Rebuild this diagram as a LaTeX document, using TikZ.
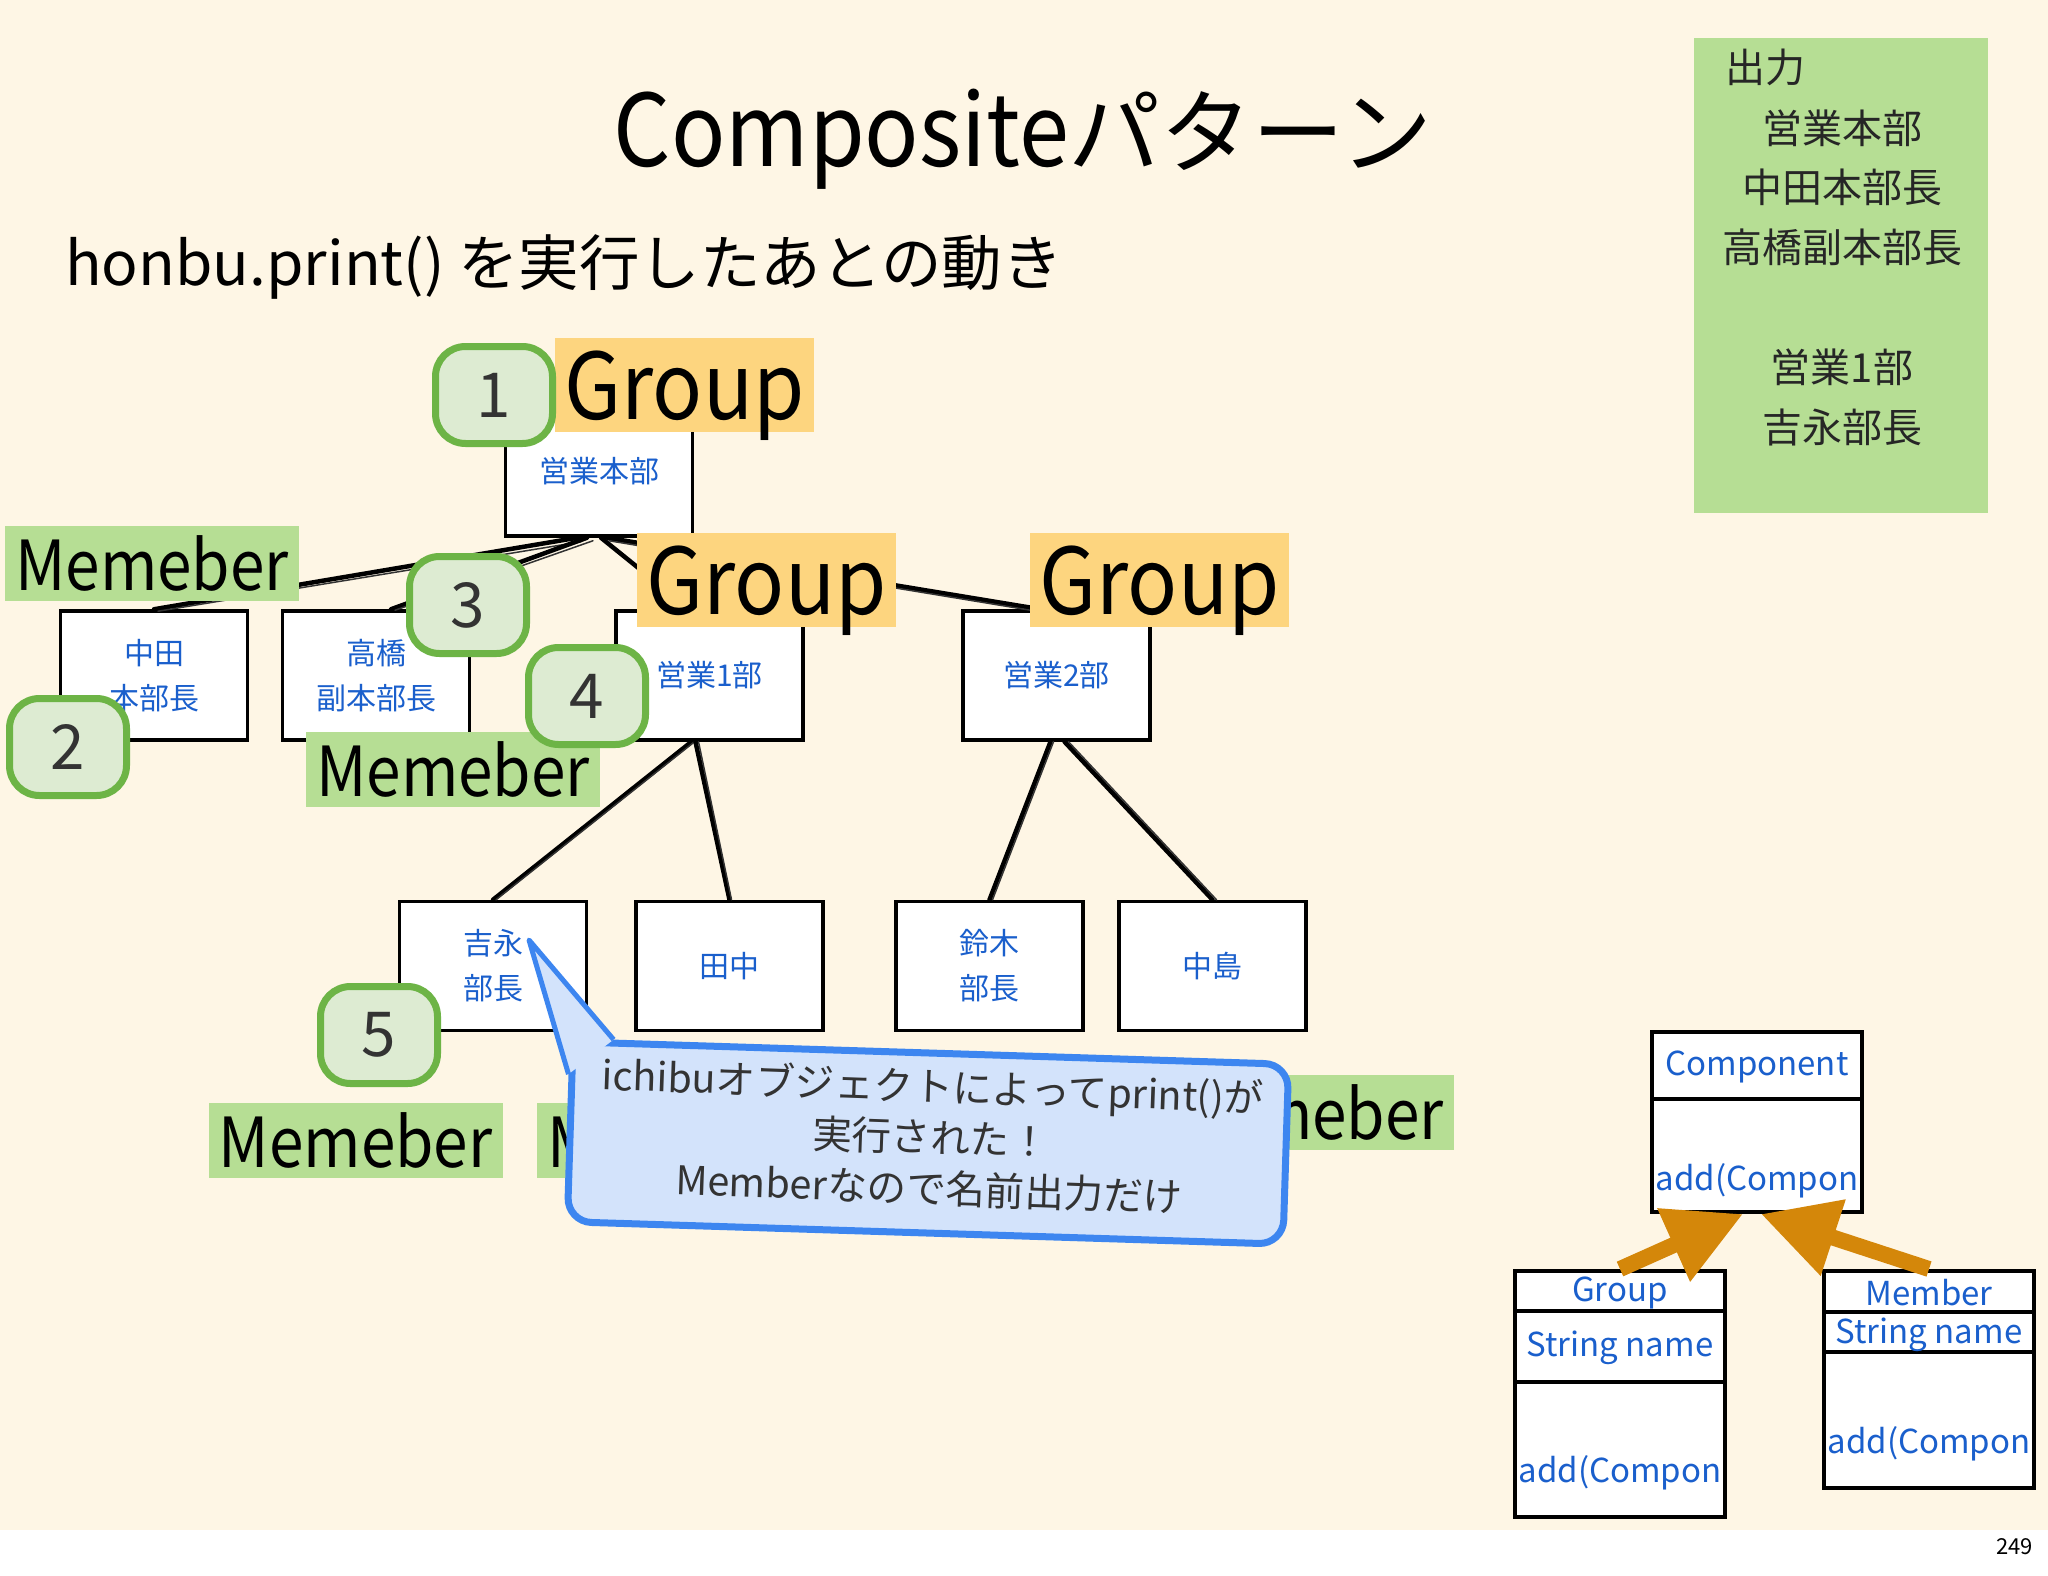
\documentclass[tikz,border=0pt]{standalone}
\usepackage{fontspec}
\setmainfont{Noto Sans CJK JP}
\newfontfamily\latn[FakeStretch=0.9]{Noto Sans CJK JP}
\usetikzlibrary{arrows.meta,calc}
\definecolor{cream}{HTML}{FEF6E5}
\definecolor{lblgreen}{HTML}{B6DE94}
\definecolor{lblyellow}{HTML}{FDD57F}
\definecolor{boxblue}{HTML}{1A5FCC}
\definecolor{badgefill}{HTML}{DDEBD2}
\definecolor{badgeline}{HTML}{6DB446}
\definecolor{callfill}{HTML}{D3E3FB}
\definecolor{callline}{HTML}{3D86F0}
\definecolor{orng}{HTML}{D4870A}
\definecolor{txtgray}{HTML}{333333}
\newcommand\fsz[2]{\fontsize{#1}{#2}\selectfont}
\tikzset{
  orgbox/.style={draw=black, line width=3.5pt, fill=white, minimum width=187pt, minimum height=129pt, inner sep=0pt, text=boxblue, font=\fsz{30}{45}, align=center},
  grouplbl/.style={fill=lblyellow, minimum width=259pt, minimum height=94pt, inner sep=0pt, font=\latn\fsz{92}{100}, text depth=0pt},
  memlbl/.style={fill=lblgreen, minimum width=294pt, minimum height=75pt, inner sep=0pt, font=\latn\fsz{69}{72}, text depth=0pt},
  badge/.style={draw=badgeline, line width=7pt, fill=badgefill, rounded corners=30pt, minimum width=117pt, minimum height=97pt, inner sep=0pt, text=txtgray, font=\fsz{62}{70}},
  conn/.style={line width=4.5pt, black, line cap=round},
  connthin/.style={line width=1.5pt, black!80, line cap=round},
  uml/.style={draw=black, line width=4pt, fill=white, inner sep=0pt},
  umltxt/.style={text=boxblue, font=\fsz{33}{40}, inner sep=0pt},
  uarrow/.style={draw=orng, line width=16pt, -{Triangle[length=76pt,width=76pt]}},
  outtxt/.style={font=\fsz{40}{48}, text=black!85, inner sep=0pt},
}
\begin{document}
\begin{tikzpicture}[x=1pt,y=-1pt]
\useasboundingbox (0,0) rectangle (2048,1576);
\fill[white] (0,0) rectangle (2048,1576);
\fill[cream] (0,0) rectangle (2048,1530);

% titles
\node[anchor=base, inner sep=0pt] (title) at (1023,167) {{\latn\fsz{100}{110}Composite}{\fsz{92}{100}パターン}};
\node[anchor=base west, font=\fsz{60.5}{70}, inner sep=0pt] (sub) at (65,285) {honbu.print() を実行したあとの動き};

% output panel
\node[fill=lblgreen, minimum width=294pt, minimum height=475pt, inner sep=0pt] (out) at (1841,275.5) {};
\node[outtxt, anchor=west] (o0) at (1725,67) {出力};
\node[outtxt] (o1) at (1842,128) {営業本部};
\node[outtxt] (o2) at (1842,187) {中田本部長};
\node[outtxt] (o3) at (1842,247) {高橋副本部長};
\node[outtxt] (o4) at (1842,367) {営業1部};
\node[outtxt] (o5) at (1842,427) {吉永部長};

% tree boxes
\node[orgbox] (honbu) at (599,471.5) {営業本部};
\node[orgbox] (nakata) at (154,675.5) {中田\\本部長};
\node[orgbox] (taka) at (376,675.5) {高橋\\副本部長};
\node[orgbox] (ichibu) at (709.5,675.5) {営業1部};
\node[orgbox] (nibu) at (1056.5,675.5) {営業2部};
\node[orgbox] (yoshi) at (493,966) {吉永\\部長};
\node[orgbox] (tanaka) at (729.5,966) {田中};
\node[orgbox] (suzuki) at (989.5,966) {鈴木\\部長};
\node[orgbox] (nakajima) at (1212.5,966) {中島};

% connectors (sketchy: a thick stroke plus a thin offset stroke)
\draw[conn] ([xshift=-22pt]honbu.south) -- (nakata.north);
\draw[connthin] ([xshift=-18pt,yshift=-4pt]honbu.south) -- ([xshift=4pt,yshift=-2pt]nakata.north);
\draw[conn] ([xshift=-12pt]honbu.south) -- ([xshift=15pt]taka.north);
\draw[connthin] ([xshift=-6pt,yshift=-3pt]honbu.south) -- ([xshift=19pt,yshift=-1pt]taka.north);
\draw[conn] ([xshift=2pt]honbu.south) -- ([xshift=-20pt]ichibu.north);
\draw[conn] ([xshift=8pt]honbu.south) -- ([xshift=-16pt]nibu.north);
\draw[connthin] ([xshift=10pt,yshift=-3pt]honbu.south) -- ([xshift=-14pt,yshift=-3pt]nibu.north);
\draw[conn] ([xshift=-18pt]ichibu.south) -- (yoshi.north);
\draw[connthin] ([xshift=-15pt]ichibu.south) -- ([xshift=3pt]yoshi.north);
\draw[conn] ([xshift=-14pt]ichibu.south) -- (tanaka.north);
\draw[connthin] ([xshift=-11pt]ichibu.south) -- ([xshift=2pt]tanaka.north);
\draw[conn] ([xshift=-6pt]nibu.south) -- (suzuki.north);
\draw[connthin] ([xshift=-3pt]nibu.south) -- ([xshift=3pt]suzuki.north);
\draw[conn] ([xshift=8pt]nibu.south) -- (nakajima.north);
\draw[connthin] ([xshift=12pt]nibu.south) -- ([xshift=4pt]nakajima.north);

% labels
\node[grouplbl] (g1) at (684.5,385) {Group};
\node[grouplbl] (g2) at (766.5,580) {Group};
\node[grouplbl] (g3) at (1159.5,580) {Group};
\node[memlbl] (m1) at (152,563.5) {Memeber};
\node[memlbl] (m2) at (453,769) {Memeber};
\node[memlbl] (m3) at (355.5,1140) {Memeber};
\node[memlbl] (m4) at (684,1140) {Memeber};
\node[memlbl] (m5) at (1307,1112) {Memeber};

% badges
\node[badge] (b1) at (494,395) {1};
\node[badge] (b2) at (68,747) {2};
\node[badge] (b3) at (468,605) {3};
\node[badge] (b4) at (587,696) {4};
\node[badge] (b5) at (379,1035) {5};

% callout
\coordinate (tip) at (529,940);
\node[draw=callline, line width=7pt, fill=callfill, rounded corners=24pt, minimum width=716pt, minimum height=180pt, rotate=-1.8] (callout) at (928,1143) {};
\fill[callfill] (tip) -- ($(callout.north west)!44pt!(callout.north east)$) -- ($(callout.north west)!36pt!(callout.south west)$) -- cycle;
\draw[callline, line width=5pt, line join=round] ($(callout.north west)!44pt!(callout.north east)$) -- (tip) -- ($(callout.north west)!36pt!(callout.south west)$);
\node[text=txtgray, align=center, font=\fsz{39.5}{51}, rotate=-2] (ctext) at (931,1137) {ichibuオブジェクトによってprint()が\\実行された！\\Memberなので名前出力だけ};

% UML
\node[uml, minimum width=210pt, minimum height=180pt] (comp) at (1757,1122) {};
\draw[line width=4pt] (1650,1099) -- (1864,1099);
\node[umltxt] (ct1) at (1757,1067) {Component};
\node[umltxt] (ct2) at (1757,1181) {add(Compon};
\node[uml, minimum width=210pt, minimum height=246pt] (grp) at (1620,1394) {};
\draw[line width=4pt] (1513,1311) -- (1727,1311);
\draw[line width=4pt] (1513,1382) -- (1727,1382);
\node[umltxt] (gt1) at (1620,1293) {Group};
\node[umltxt] (gt2) at (1620,1348) {String name};
\node[umltxt] (gt3) at (1620,1473) {add(Compon};
\node[uml, minimum width=210pt, minimum height=217pt] (mem) at (1929,1379.5) {};
\draw[line width=4pt] (1822,1312) -- (2036,1312);
\draw[line width=4pt] (1822,1352) -- (2036,1352);
\node[umltxt] (mt1) at (1929,1293) {Member};
\node[umltxt] (mt2) at (1929,1335) {String name};
\node[umltxt] (mt3) at (1929,1444) {add(Compon};
\draw[uarrow] (grp.north) -- ([xshift=-14pt]comp.south);
\draw[uarrow] (mem.north) -- ([xshift=4pt]comp.south);

\node[anchor=base east, font=\fsz{22}{26}, inner sep=0pt] (pg) at (2033,1554) {249};
\end{tikzpicture}
\end{document}
